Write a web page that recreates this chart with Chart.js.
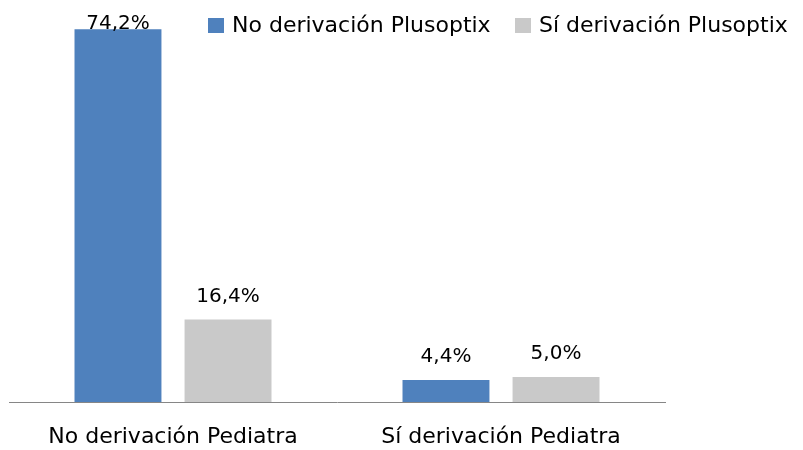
<!DOCTYPE html>
<html><head><meta charset="utf-8">
<script src="https://cdn.jsdelivr.net/npm/chart.js@4/dist/chart.umd.min.js"></script>
<style>html,body{margin:0;padding:0;background:#fff}#wrap{width:803px;height:450px}</style>
</head><body><div id="wrap"><canvas id="c" width="803" height="450"></canvas></div>
<script>
const categories = ["No derivación Pediatra", "Sí derivación Pediatra"];
const seriesNames = ["No derivación Plusoptix", "Sí derivación Plusoptix"];
const noPlusoptix = [74.2, 4.4];
const siPlusoptix = [16.4, 5.0];
const colors = ["#4F81BD", "#C9C9C9"];
const FONT = "'DejaVu Sans', sans-serif";

const fmt = v => v.toFixed(1).replace('.', ',') + '%';

const labelsPlugin = {
  id: 'valueLabels',
  afterDatasetsDraw(chart) {
    const ctx = chart.ctx;
    ctx.save();
    ctx.font = "20px " + FONT;
    ctx.fillStyle = "#000";
    ctx.textAlign = "center";
    ctx.textBaseline = "alphabetic";
    chart.data.datasets.forEach((ds, i) => {
      chart.getDatasetMeta(i).data.forEach((bar, j) => {
        const y = Math.max(bar.y - 18, 29);
        ctx.fillText(fmt(ds.data[j]), bar.x, y);
      });
    });
    ctx.restore();
  }
};

const legendPlugin = {
  id: 'customLegend',
  afterDraw(chart) {
    const ctx = chart.ctx;
    ctx.save();
    ctx.font = "22px " + FONT;
    ctx.textBaseline = "middle";
    ctx.textAlign = "left";
    const xs = [208, 515];
    chart.data.datasets.forEach((ds, i) => {
      ctx.fillStyle = ds.backgroundColor;
      ctx.fillRect(xs[i], 18, 16, 15);
      ctx.fillStyle = "#000";
      ctx.fillText(ds.label, xs[i] + 24, 26);
    });
    ctx.restore();
  }
};

new Chart(document.getElementById('c'), {
  type: 'bar',
  data: {
    labels: categories,
    datasets: [
      { label: seriesNames[0], data: noPlusoptix, backgroundColor: colors[0] },
      { label: seriesNames[1], data: siPlusoptix, backgroundColor: colors[1] }
    ]
  },
  options: {
    responsive: false,
    animation: false,
    devicePixelRatio: 1,
    categoryPercentage: 0.671,
    barPercentage: 0.79,
    layout: { padding: { left: 9, right: 138, top: 0, bottom: 0 } },
    plugins: { legend: { display: false }, tooltip: { enabled: false } },
    scales: {
      x: {
        afterFit(scale) { scale.height = 48; },
        grid: { display: false, drawTicks: false },
        border: { display: true, color: "#868686", width: 1 },
        ticks: { color: "#000", font: { family: FONT, size: 22 }, padding: 22, maxRotation: 0 }
      },
      y: { display: false, min: 0, max: 80 }
    }
  },
  plugins: [labelsPlugin, legendPlugin]
});
</script>
</body></html>
